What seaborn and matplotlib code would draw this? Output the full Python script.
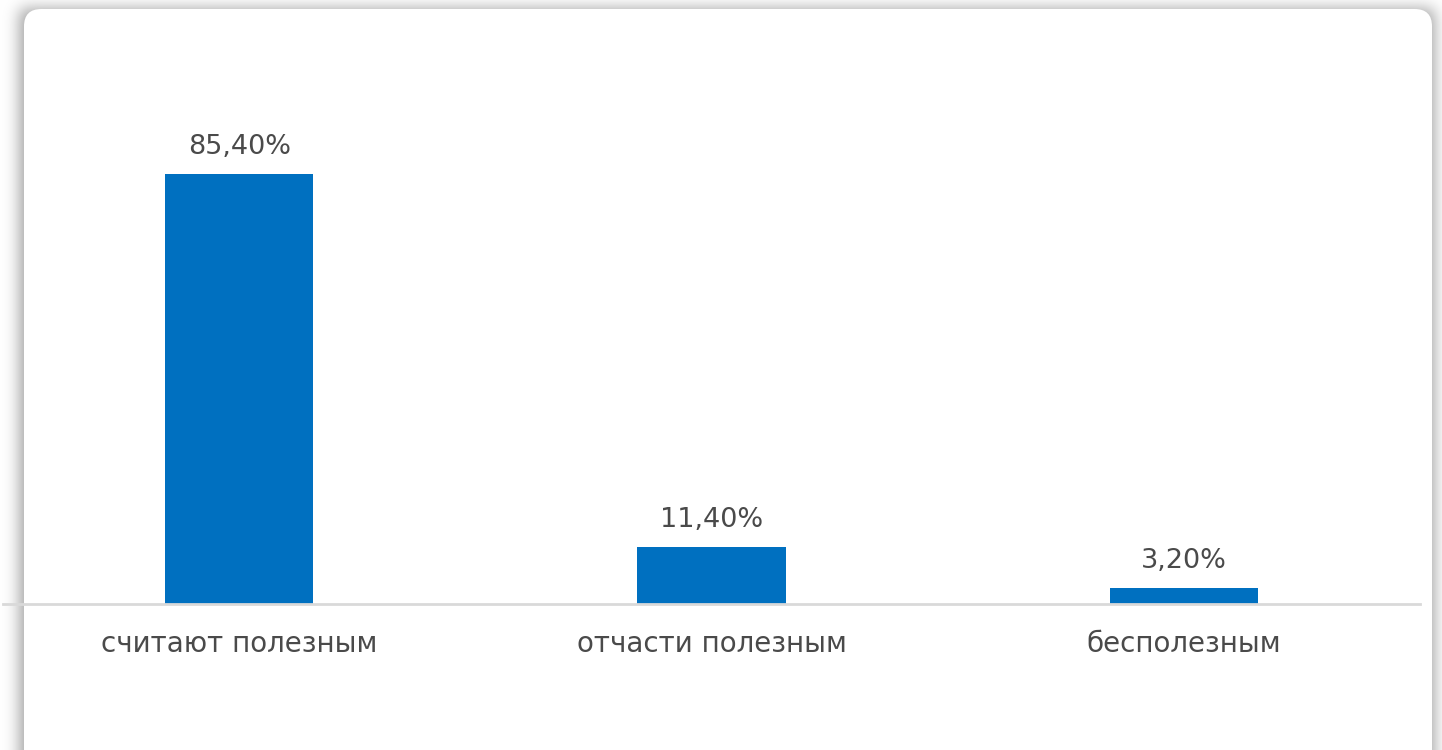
import numpy as np
import pandas as pd
import matplotlib
matplotlib.use("Agg")
import matplotlib.pyplot as plt
from matplotlib.patches import FancyBboxPatch
import seaborn as sns

# Survey answers and their shares (%)
categories = ["считают полезным", "отчасти полезным", "бесполезным"]
shares = [85.4, 11.4, 3.2]
value_labels = ["85,40%", "11,40%", "3,20%"]

BAR_COLOR = "#0070C0"
TEXT_COLOR = "#4a4a4a"
W, H = 1442, 750

sns.set_theme(style="white")
plt.rcParams["font.family"] = ["DejaVu Sans"]

fig = plt.figure(figsize=(W / 100, H / 100), dpi=100)

# Soft drop shadow around the white card (blurred mask drawn as a background image)
card_x0, card_y0, card_x1, card_y1 = 24, 9, 1432, 790
mask = np.zeros((H + 80, W + 80))
mask[card_y0 + 40:card_y1 + 40, card_x0 + 40 - 4:card_x1 + 40 + 2] = 1.0
sigma = 8.0
r = int(3 * sigma)
k = np.exp(-0.5 * (np.arange(-r, r + 1) / sigma) ** 2)
k /= k.sum()
blur = np.apply_along_axis(lambda v: np.convolve(v, k, mode="same"), 0, mask)
blur = np.apply_along_axis(lambda v: np.convolve(v, k, mode="same"), 1, blur)
blur = blur[40:40 + H, 40:40 + W]
shade = 1.0 - 0.38 * blur
img = np.dstack([shade, shade, shade])
fig.figimage(img, xo=0, yo=0, origin="upper", zorder=0)

# White card with rounded corners
card = FancyBboxPatch(
    (card_x0 / W, 1 - card_y1 / H),
    (card_x1 - card_x0) / W,
    (card_y1 - card_y0) / H,
    boxstyle="round,pad=0,rounding_size=0.012",
    transform=fig.transFigure,
    facecolor="white",
    edgecolor="none",
    zorder=1,
    mutation_aspect=W / H,
)
fig.patches.append(card)

# Plot area: baseline at y=604 px, spans x 3..1420 px
ax_left, ax_right = 3 / W, 1420 / W
ax_bottom = 1 - 604 / H
ax_top = 1 - 100 / H
ax = fig.add_axes([ax_left, ax_bottom, ax_right - ax_left, ax_top - ax_bottom])
ax.set_facecolor("none")
ax.set_zorder(2)

df = pd.DataFrame({"category": categories, "share": shares})
sns.barplot(data=df, x="category", y="share", color=BAR_COLOR, saturation=1,
            width=0.314, linewidth=0, ax=ax)

ax.set_ylim(0, 100.1)
ax.set_xlim(-0.5, 2.5)
ax.set_xlabel("")
ax.set_ylabel("")
ax.set_yticks([])
for side in ["top", "right", "left"]:
    ax.spines[side].set_visible(False)
ax.spines["bottom"].set_color("#d9d9d9")
ax.spines["bottom"].set_linewidth(2)
ax.tick_params(axis="x", length=0, pad=19, labelsize=20, labelcolor=TEXT_COLOR)

ax.bar_label(ax.containers[0], labels=value_labels, padding=10,
             fontsize=19.5, color=TEXT_COLOR)

fig.savefig("out.png", dpi=100)
